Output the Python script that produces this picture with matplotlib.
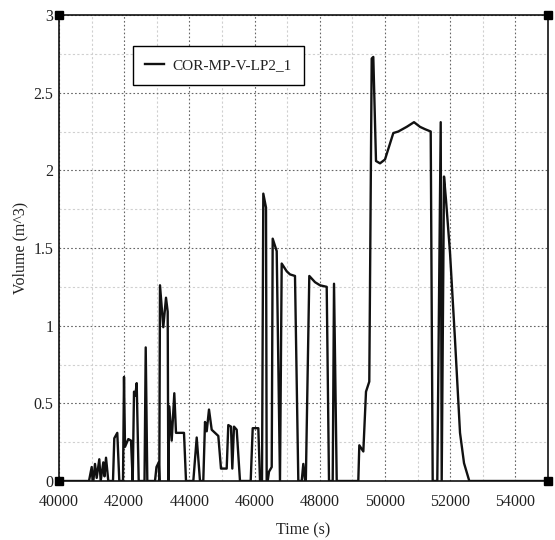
import numpy as np
import matplotlib
matplotlib.use('Agg')
import matplotlib.pyplot as plt
from matplotlib.ticker import MultipleLocator, FuncFormatter

# time (s) and volume (m^3)
time_s = [40000, 40920, 41003, 41040, 41104, 41156, 41236, 41279, 41359, 41396,
          41442, 41512, 41656, 41696, 41788, 41850, 41963, 41994, 42025, 42126,
          42209, 42261, 42301, 42341, 42383, 42445, 42623, 42660, 42709, 42945,
          42990, 43060, 43077, 43098, 43199, 43282, 43334, 43353, 43384, 43457,
          43537, 43589, 43834, 43896, 44120, 44224, 44325, 44426, 44479, 44531,
          44601, 44684, 44887, 44969, 45144, 45193, 45276, 45316, 45368, 45451,
          45552, 45880, 45942, 46114, 46166, 46227, 46267, 46350, 46371, 46442,
          46525, 46555, 46678, 46779, 46831, 46985, 47086, 47239, 47341, 47445,
          47494, 47568, 47678, 47853, 48006, 48212, 48282, 48396, 48436, 48519,
          49181, 49212, 49335, 49417, 49518, 49592, 49641, 49724, 49847, 50000,
          50255, 50408, 50666, 50890, 51074, 51227, 51402, 51463, 51604, 51709,
          51739, 51810, 51871, 51994, 52147, 52301, 52424, 52586, 55000]
volume = [0, 0, 0.09, -0.03, 0.11, 0.02, 0.14, 0.0, 0.12, 0.03,
          0.15, 0.0, 0.0, 0.275, 0.31, 0.0, 0.0, 0.67, 0.22, 0.27,
          0.26, 0.0, 0.575, 0.55, 0.63, 0.0, 0.0, 0.86, 0.0, 0.0,
          0.09, 0.12, 0.0, 1.26, 0.99, 1.18, 1.09, 0.0, 0.48, 0.26,
          0.565, 0.31, 0.31, 0.0, 0.0, 0.28, 0.0, 0.0, 0.38, 0.32,
          0.46, 0.33, 0.29, 0.08, 0.08, 0.36, 0.35, 0.08, 0.35, 0.33,
          0.0, 0.0, 0.34, 0.34, 0.0, 0.0, 1.85, 1.76, -0.045, 0.06,
          0.09, 1.56, 1.48, 0.0, 1.40, 1.35, 1.33, 1.32, 0.0, 0.0,
          0.11, -0.04, 1.32, 1.28, 1.26, 1.25, 0.0, 0.0, 1.27, 0.0,
          0.0, 0.23, 0.19, 0.575, 0.64, 2.72, 2.73, 2.06, 2.045, 2.07,
          2.24, 2.25, 2.28, 2.31, 2.28, 2.265, 2.25, 0.0, 0.0, 2.31,
          0.0, 1.96, 1.81, 1.47, 0.91, 0.31, 0.115, 0.0, 0.0]
series_name = 'COR-MP-V-LP2_1'

plt.rcParams['font.family'] = ['Liberation Serif', 'DejaVu Serif']
txt = '#222222'

fig = plt.figure(figsize=(5.55, 5.4), dpi=100)
ax = fig.add_axes([59/555, 1 - 481/540, 489/555, 466/540])

ax.plot(time_s, volume, color='#111111', lw=1.7, label=series_name)

ax.set_xlim(40000, 55000)
ax.set_ylim(0, 3)
ax.xaxis.set_major_locator(MultipleLocator(2000))
ax.xaxis.set_minor_locator(MultipleLocator(1000))
ax.yaxis.set_major_locator(MultipleLocator(0.5))
ax.yaxis.set_minor_locator(MultipleLocator(0.25))
ax.yaxis.set_major_formatter(FuncFormatter(lambda v, p: f'{v:g}'))

ax.grid(which='major', color='#666666', linestyle=(0, (1.5, 2)), lw=0.8)
ax.grid(which='minor', color='#d0d0d0', linestyle=(0, (2, 2)), lw=0.8)
ax.tick_params(which='both', length=0, labelsize=11.5, labelcolor=txt)
ax.tick_params(axis='x', pad=9)
ax.tick_params(axis='y', pad=4)

for s in ax.spines.values():
    s.set_linewidth(1.2)
    s.set_color('#111111')

# corner squares
ax.plot([40000, 40000, 55000, 55000], [0, 3, 0, 3], 's', color='black',
        ms=6, clip_on=False, zorder=5)

ax.set_xlabel('Time (s)', fontsize=11.5, color=txt)
ax.set_ylabel('Volume (m^3)', fontsize=11.5, color=txt)
ax.xaxis.set_label_coords(0.5, -0.088)
ax.yaxis.set_label_coords(-0.062, 0.5)

leg = ax.legend(loc='upper left', bbox_to_anchor=(0.151, 0.933), frameon=True,
                fancybox=False, handlelength=1.25, handletextpad=0.5,
                borderpad=0.82, borderaxespad=0, fontsize=11)
leg.get_frame().set_edgecolor('black')
leg.get_frame().set_linewidth(1.0)
leg.get_frame().set_alpha(1)
for t in leg.get_texts():
    t.set_color(txt)

fig.savefig('out.png', dpi=100)
